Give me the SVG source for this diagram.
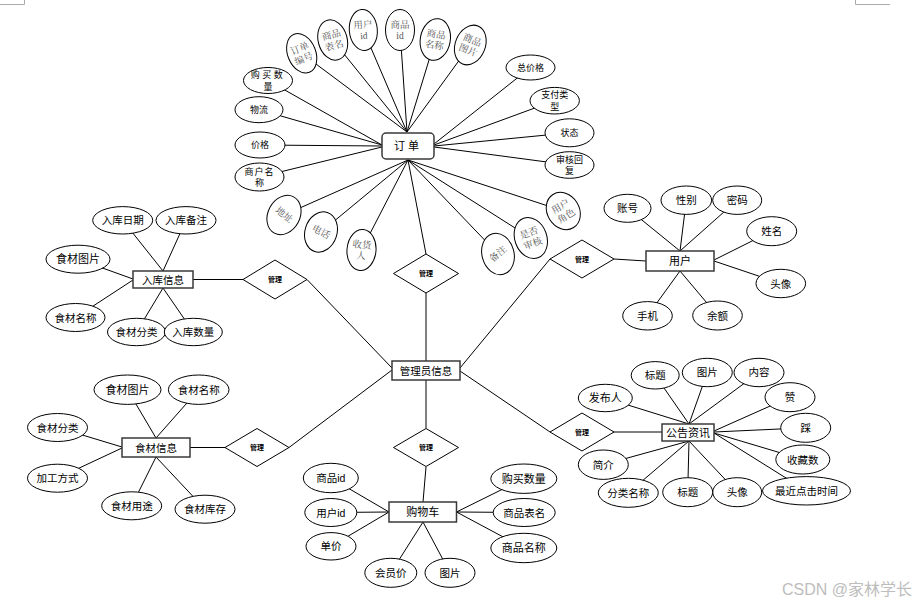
<svg xmlns="http://www.w3.org/2000/svg" width="922" height="604" viewBox="0 0 922 604">
<style>
.e{fill:#fff;stroke:#000;stroke-width:1}
.r{fill:#fff;stroke:#3a3a3a;stroke-width:1.5}
.d{fill:#fff;stroke:#000;stroke-width:1}
.c line{stroke:#000;stroke-width:1}
text{font-family:"Liberation Sans","Noto Sans CJK SC",sans-serif;text-anchor:middle;dominant-baseline:central;fill:#000}
.t{font-size:10.5px}
.s{font-size:9px}
.n{font-size:11px}
.g{font-family:"Liberation Serif","Noto Serif CJK SC","Noto Sans CJK SC",serif;font-size:9.5px;fill:#555}
.m{font-size:7px;font-weight:bold}
.w{font-size:16px;fill:#bdbdbd;text-anchor:start}
</style>
<rect width="922" height="604" fill="#fff"/>
<g id="corners" stroke="#aaa" stroke-width="1" fill="none">
<polyline points="0,4.5 24.5,4.5 24.5,0"/>
<polyline points="855.5,0 855.5,4.5 890,4.5"/>
</g>
<g id="connectors" class="c">
<line x1="301.7" y1="53.3" x2="407" y2="132"/>
<line x1="332.7" y1="40" x2="407" y2="132"/>
<line x1="363.3" y1="30" x2="407" y2="132"/>
<line x1="400" y1="30" x2="407" y2="132"/>
<line x1="435.3" y1="39.5" x2="407" y2="132"/>
<line x1="470.3" y1="45" x2="407" y2="132"/>
<line x1="268" y1="80.5" x2="382" y2="145"/>
<line x1="259" y1="109.7" x2="382" y2="145"/>
<line x1="260" y1="145" x2="382" y2="146"/>
<line x1="259.5" y1="177" x2="382" y2="147"/>
<line x1="530.5" y1="67.5" x2="434" y2="144"/>
<line x1="554.7" y1="100.7" x2="434" y2="145"/>
<line x1="569.5" y1="132.8" x2="434" y2="146"/>
<line x1="569.5" y1="165" x2="434" y2="147"/>
<line x1="284" y1="215" x2="408" y2="160"/>
<line x1="321" y1="232" x2="408" y2="160"/>
<line x1="361.5" y1="250" x2="408" y2="160"/>
<line x1="498" y1="254" x2="408" y2="160"/>
<line x1="530.8" y1="238" x2="408" y2="160"/>
<line x1="563.3" y1="211" x2="408" y2="160"/>
<line x1="408" y1="160" x2="426" y2="254"/>
<line x1="426" y1="361" x2="426" y2="293"/>
<line x1="307" y1="279.5" x2="392" y2="368"/>
<line x1="289" y1="447.5" x2="392" y2="370"/>
<line x1="460" y1="368" x2="550" y2="259"/>
<line x1="460" y1="371" x2="550" y2="432"/>
<line x1="426" y1="380" x2="426" y2="428"/>
<line x1="193" y1="279.5" x2="243" y2="279.5"/>
<line x1="190" y1="447.5" x2="225" y2="447.5"/>
<line x1="614" y1="259" x2="646" y2="261"/>
<line x1="613" y1="432" x2="662" y2="432"/>
<line x1="426" y1="467" x2="423" y2="502"/>
<line x1="122.7" y1="220.3" x2="163" y2="271"/>
<line x1="186" y1="220.3" x2="163" y2="271"/>
<line x1="78" y1="259.2" x2="133" y2="279"/>
<line x1="75.5" y1="317.5" x2="133" y2="280"/>
<line x1="136.5" y1="332" x2="163" y2="288"/>
<line x1="193.3" y1="332" x2="163" y2="288"/>
<line x1="127.5" y1="389.7" x2="156" y2="438"/>
<line x1="198.7" y1="389.7" x2="156" y2="438"/>
<line x1="57.5" y1="427.5" x2="122" y2="447"/>
<line x1="57.5" y1="478.2" x2="122" y2="448"/>
<line x1="131.7" y1="505.8" x2="156" y2="457"/>
<line x1="205" y1="509.2" x2="156" y2="457"/>
<line x1="330.8" y1="478" x2="389" y2="512"/>
<line x1="330.8" y1="512.5" x2="389" y2="512"/>
<line x1="331" y1="546.3" x2="389" y2="512"/>
<line x1="390.8" y1="572.8" x2="423" y2="522"/>
<line x1="450" y1="572.8" x2="423" y2="522"/>
<line x1="523.8" y1="478.7" x2="456.5" y2="512"/>
<line x1="524.2" y1="512.5" x2="456.5" y2="512"/>
<line x1="523.8" y1="548" x2="456.5" y2="512"/>
<line x1="627.5" y1="208.3" x2="680" y2="251"/>
<line x1="686.3" y1="200.2" x2="680" y2="251"/>
<line x1="737.2" y1="200.2" x2="680" y2="251"/>
<line x1="771.7" y1="231.2" x2="714" y2="260"/>
<line x1="780.8" y1="283.5" x2="714" y2="261"/>
<line x1="647.5" y1="315.8" x2="680" y2="271"/>
<line x1="717.5" y1="315.5" x2="680" y2="271"/>
<line x1="605.3" y1="398" x2="689" y2="424"/>
<line x1="655.2" y1="375.3" x2="689" y2="424"/>
<line x1="707.3" y1="372.5" x2="689" y2="424"/>
<line x1="759" y1="372.5" x2="689" y2="424"/>
<line x1="790" y1="397.2" x2="714" y2="431"/>
<line x1="805.7" y1="427.8" x2="714" y2="432"/>
<line x1="802.8" y1="459.5" x2="714" y2="433"/>
<line x1="806.5" y1="490.8" x2="714" y2="433"/>
<line x1="603.3" y1="464.7" x2="689" y2="441"/>
<line x1="628.3" y1="492.8" x2="689" y2="441"/>
<line x1="687.7" y1="492.2" x2="689" y2="441"/>
<line x1="737.2" y1="492.2" x2="689" y2="441"/>
</g>

<!-- 订单 -->
<g id="order"><rect class="r" x="382" y="133" width="52" height="26" rx="4"/><text class="n" x="408" y="146" letter-spacing="3">订单</text></g>
<g id="o-no" transform="translate(301.7,53.3) rotate(-22)"><ellipse class="e" rx="14" ry="20.5"/><text class="g" y="-5">订单</text><text class="g" y="6">编号</text></g>
<g id="o-table" transform="translate(332.7,40) rotate(-15)"><ellipse class="e" rx="14.5" ry="20.5"/><text class="g" y="-5">商品</text><text class="g" y="6">表名</text></g>
<g id="o-uid" transform="translate(363.3,30) rotate(-5)"><ellipse class="e" rx="14" ry="20.5"/><text class="g" y="-5">用户</text><text class="g" y="6">id</text></g>
<g id="o-gid" transform="translate(400,30)"><ellipse class="e" rx="14.5" ry="20.5"/><text class="g" y="-5">商品</text><text class="g" y="6">id</text></g>
<g id="o-gname" transform="translate(435.3,39.5) rotate(10)"><ellipse class="e" rx="15" ry="21"/><text class="g" y="-5">商品</text><text class="g" y="6">名称</text></g>
<g id="o-gpic" transform="translate(470.3,45) rotate(22)"><ellipse class="e" rx="15" ry="20.5"/><text class="g" y="-5">商品</text><text class="g" y="6">图片</text></g>
<g id="o-qty"><ellipse class="e" cx="268" cy="80.5" rx="24.5" ry="13"/><text class="s" x="268" y="75" letter-spacing="2.5">购买数</text><text class="s" x="268" y="86.5">量</text></g>
<g id="o-log"><ellipse class="e" cx="259" cy="109.7" rx="24" ry="13"/><text class="s" x="259" y="109.7">物流</text></g>
<g id="o-price"><ellipse class="e" cx="260" cy="145" rx="25" ry="13"/><text class="s" x="260" y="145">价格</text></g>
<g id="o-shop"><ellipse class="e" cx="259.5" cy="177" rx="24.5" ry="14"/><text class="s" x="259.5" y="171.5" letter-spacing="1">商户名</text><text class="s" x="259.5" y="183">称</text></g>
<g id="o-total"><ellipse class="e" cx="530.5" cy="67.5" rx="24.5" ry="12.5"/><text class="s" x="530.5" y="67.5">总价格</text></g>
<g id="o-pay"><ellipse class="e" cx="554.7" cy="100.7" rx="24.7" ry="13.3"/><text class="s" x="554.7" y="95">支付类</text><text class="s" x="554.7" y="106.5">型</text></g>
<g id="o-state"><ellipse class="e" cx="569.5" cy="132.8" rx="24.5" ry="14"/><text class="s" x="569.5" y="132.8">状态</text></g>
<g id="o-reply"><ellipse class="e" cx="569.5" cy="165" rx="24.5" ry="13.3"/><text class="s" x="569.5" y="159.5">审核回</text><text class="s" x="569.5" y="171">复</text></g>
<g id="o-addr" transform="translate(284,215) rotate(28)"><ellipse class="e" rx="16" ry="20.5"/><text class="g" transform="rotate(10)">地址</text></g>
<g id="o-tel" transform="translate(321,232) rotate(18)"><ellipse class="e" rx="16" ry="20.5"/><text class="g" transform="rotate(10)">电话</text></g>
<g id="o-recv" transform="translate(361.5,250) rotate(5)"><ellipse class="e" rx="14.5" ry="20.5"/><text class="g" y="-5">收货</text><text class="g" y="6">人</text></g>
<g id="o-note" transform="translate(498,254) rotate(-15)"><ellipse class="e" rx="16" ry="21"/><text class="g" transform="rotate(-25)">备注</text></g>
<g id="o-audit" transform="translate(530.8,238) rotate(-20)"><ellipse class="e" rx="16" ry="21"/><text class="g" y="-5">是否</text><text class="g" y="6">审核</text></g>
<g id="o-role" transform="translate(563.3,211) rotate(-32)"><ellipse class="e" rx="16" ry="19.5"/><text class="g" y="-5">用户</text><text class="g" y="6">角色</text></g>

<!-- diamonds -->
<g id="rel-stock"><polygon class="d" points="243,279.5 275,260 307,279.5 275,299"/><text class="m" x="275" y="279.5">管理</text></g>
<g id="rel-order"><polygon class="d" points="393.5,273.5 426,254 458.5,273.5 426,293"/><text class="m" x="426" y="273.5">管理</text></g>
<g id="rel-user"><polygon class="d" points="550,259 582,240 614,259 582,278"/><text class="m" x="582" y="259">管理</text></g>
<g id="rel-food"><polygon class="d" points="225,447.5 257,428.5 289,447.5 257,466.5"/><text class="m" x="257" y="447.5">管理</text></g>
<g id="rel-cart"><polygon class="d" points="393.5,447.5 426,428.5 458.5,447.5 426,466.5"/><text class="m" x="426" y="447.5">管理</text></g>
<g id="rel-news"><polygon class="d" points="550,432 582,413 614,432 582,451"/><text class="m" x="582" y="432">管理</text></g>

<!-- 管理员信息 -->
<g id="admin"><rect class="r" x="392" y="361" width="68" height="19"/><text class="t" x="426" y="370.5">管理员信息</text></g>

<!-- 入库信息 -->
<g id="stock"><rect class="r" x="133" y="271" width="60" height="17"/><text class="t" x="163" y="279.5">入库信息</text></g>
<g id="s-date"><ellipse class="e" cx="122.7" cy="220.3" rx="30" ry="13.7"/><text class="t" x="122.7" y="220.3">入库日期</text></g>
<g id="s-note"><ellipse class="e" cx="186" cy="220.3" rx="30" ry="13.7"/><text class="t" x="186" y="220.3">入库备注</text></g>
<g id="s-pic"><ellipse class="e" cx="78" cy="259.2" rx="32" ry="14"/><text class="n" x="78" y="259.2">食材图片</text></g>
<g id="s-name"><ellipse class="e" cx="75.5" cy="317.5" rx="29.5" ry="14"/><text class="t" x="75.5" y="317.5">食材名称</text></g>
<g id="s-cat"><ellipse class="e" cx="136.5" cy="332" rx="29" ry="13.7"/><text class="t" x="136.5" y="332">食材分类</text></g>
<g id="s-qty"><ellipse class="e" cx="193.3" cy="332" rx="29" ry="13.7"/><text class="t" x="193.3" y="332">入库数量</text></g>

<!-- 食材信息 -->
<g id="food"><rect class="r" x="122" y="438" width="68" height="19"/><text class="t" x="156" y="447.5">食材信息</text></g>
<g id="f-pic"><ellipse class="e" cx="127.5" cy="389.7" rx="33.5" ry="14.7"/><text class="n" x="127.5" y="389.7">食材图片</text></g>
<g id="f-name"><ellipse class="e" cx="198.7" cy="389.7" rx="30.3" ry="14.7"/><text class="t" x="198.7" y="389.7">食材名称</text></g>
<g id="f-cat"><ellipse class="e" cx="57.5" cy="427.5" rx="30" ry="14"/><text class="t" x="57.5" y="427.5">食材分类</text></g>
<g id="f-proc"><ellipse class="e" cx="57.5" cy="478.2" rx="30" ry="14"/><text class="t" x="57.5" y="478.2">加工方式</text></g>
<g id="f-use"><ellipse class="e" cx="131.7" cy="505.8" rx="30" ry="14"/><text class="t" x="131.7" y="505.8">食材用途</text></g>
<g id="f-stock"><ellipse class="e" cx="205" cy="509.2" rx="30" ry="14"/><text class="t" x="205" y="509.2">食材库存</text></g>

<!-- 购物车 -->
<g id="cart"><rect class="r" x="389" y="502" width="67.5" height="20"/><text class="n" x="422.7" y="512">购物车</text></g>
<g id="c-gid"><ellipse class="e" cx="330.8" cy="478" rx="27.5" ry="14.7"/><text class="t" x="330.8" y="478">商品id</text></g>
<g id="c-uid"><ellipse class="e" cx="330.8" cy="512.5" rx="26" ry="14"/><text class="t" x="330.8" y="512.5">用户id</text></g>
<g id="c-price"><ellipse class="e" cx="331" cy="546.3" rx="25" ry="13.7"/><text class="t" x="331" y="546.3">单价</text></g>
<g id="c-vip"><ellipse class="e" cx="390.8" cy="572.8" rx="26" ry="14.5"/><text class="t" x="390.8" y="572.8">会员价</text></g>
<g id="c-pic"><ellipse class="e" cx="450" cy="572.8" rx="25" ry="14.5"/><text class="t" x="450" y="572.8">图片</text></g>
<g id="c-qty"><ellipse class="e" cx="523.8" cy="478.7" rx="33" ry="14.7"/><text class="n" x="523.8" y="478.7">购买数量</text></g>
<g id="c-table"><ellipse class="e" cx="524.2" cy="512.5" rx="31" ry="14"/><text class="t" x="524.2" y="512.5">商品表名</text></g>
<g id="c-name"><ellipse class="e" cx="523.8" cy="548" rx="33" ry="14.7"/><text class="n" x="523.8" y="548">商品名称</text></g>

<!-- 用户 -->
<g id="user"><rect class="r" x="646" y="251" width="68" height="20"/><text class="n" x="680" y="261">用户</text></g>
<g id="u-acc"><ellipse class="e" cx="627.5" cy="208.3" rx="23.5" ry="14"/><text class="t" x="627.5" y="208.3">账号</text></g>
<g id="u-sex"><ellipse class="e" cx="686.3" cy="200.2" rx="25.3" ry="14.2"/><text class="t" x="686.3" y="200.2">性别</text></g>
<g id="u-pwd"><ellipse class="e" cx="737.2" cy="200.2" rx="24.5" ry="14.2"/><text class="t" x="737.2" y="200.2">密码</text></g>
<g id="u-name"><ellipse class="e" cx="771.7" cy="231.2" rx="25" ry="14.5"/><text class="t" x="771.7" y="231.2">姓名</text></g>
<g id="u-avatar"><ellipse class="e" cx="780.8" cy="283.5" rx="24.8" ry="14.2"/><text class="t" x="780.8" y="283.5">头像</text></g>
<g id="u-phone"><ellipse class="e" cx="647.5" cy="315.8" rx="24.8" ry="14.2"/><text class="t" x="647.5" y="315.8">手机</text></g>
<g id="u-bal"><ellipse class="e" cx="717.5" cy="315.5" rx="24.8" ry="14.5"/><text class="t" x="717.5" y="315.5">余额</text></g>

<!-- 公告资讯 -->
<g id="news"><rect class="r" x="662" y="424" width="52" height="17"/><text class="n" x="688" y="432.5">公告资讯</text></g>
<g id="n-pub"><ellipse class="e" cx="605.3" cy="398" rx="27" ry="13.7"/><text class="n" x="605.3" y="398">发布人</text></g>
<g id="n-title1"><ellipse class="e" cx="655.2" cy="375.3" rx="24" ry="13.7"/><text class="t" x="655.2" y="375.3">标题</text></g>
<g id="n-pic"><ellipse class="e" cx="707.3" cy="372.5" rx="25" ry="14.2"/><text class="t" x="707.3" y="372">图片</text></g>
<g id="n-content"><ellipse class="e" cx="759" cy="372.5" rx="25" ry="14.2"/><text class="t" x="759" y="372">内容</text></g>
<g id="n-like"><ellipse class="e" cx="790" cy="397.2" rx="25" ry="14.5"/><text class="t" x="790" y="397.2">赞</text></g>
<g id="n-dislike"><ellipse class="e" cx="805.7" cy="427.8" rx="25" ry="14.5"/><text class="t" x="805.7" y="427.8">踩</text></g>
<g id="n-fav"><ellipse class="e" cx="802.8" cy="459.5" rx="27" ry="14.5"/><text class="t" x="802.8" y="459.5">收藏数</text></g>
<g id="n-click"><ellipse class="e" cx="806.5" cy="490.8" rx="44" ry="14.2"/><text class="t" x="806.5" y="490.8">最近点击时间</text></g>
<g id="n-avatar"><ellipse class="e" cx="737.2" cy="492.2" rx="24.5" ry="14.5"/><text class="t" x="737.2" y="492.2">头像</text></g>
<g id="n-title2"><ellipse class="e" cx="687.7" cy="492.2" rx="25" ry="14.5"/><text class="t" x="687.7" y="492.2">标题</text></g>
<g id="n-cat"><ellipse class="e" cx="628.3" cy="492.8" rx="30" ry="14.5"/><text class="t" x="628.3" y="492.8">分类名称</text></g>
<g id="n-intro"><ellipse class="e" cx="603.3" cy="464.7" rx="25" ry="14.7"/><text class="t" x="603.3" y="464.7">简介</text></g>

<text class="w" x="782" y="589">CSDN @家林学长</text>
</svg>
